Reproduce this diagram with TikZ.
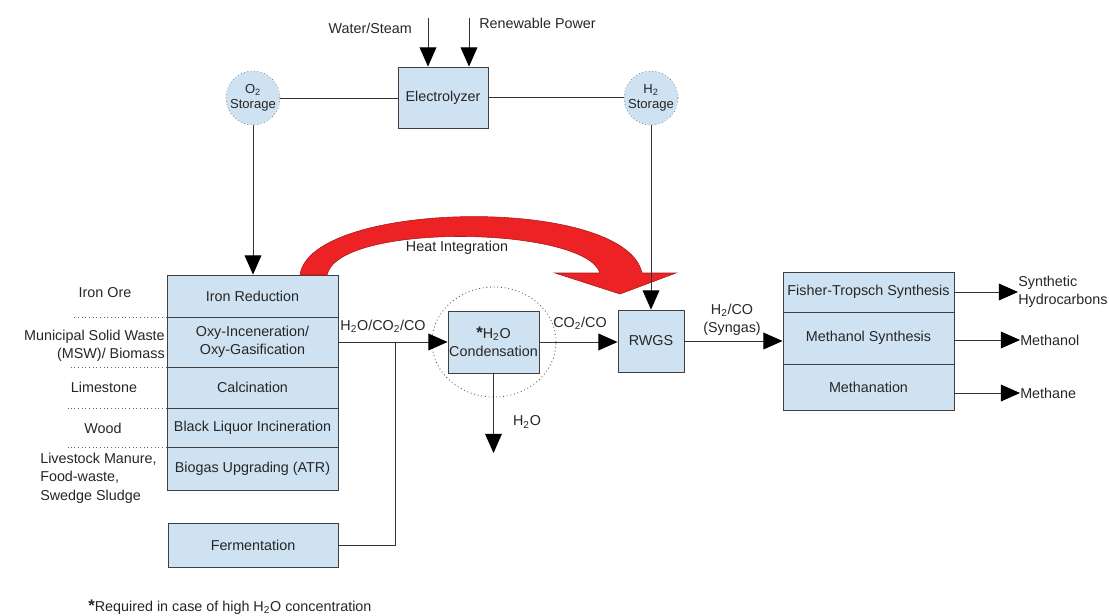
\documentclass[tikz,border=0pt]{standalone}
\usepackage{fontspec}
\setmainfont{Liberation Sans}
\usetikzlibrary{arrows.meta,shapes.geometric}
\definecolor{boxblue}{RGB}{206,226,242}
\definecolor{heatred}{RGB}{236,34,36}

\begin{document}
\begin{tikzpicture}[x=0.025cm, y=-0.025cm,
          font=\fontsize{10.2}{13}\selectfont, text=black!85,
          box/.style={draw=black!75, fill=boxblue, line width=0.6pt, inner sep=0pt, align=center},
          store/.style={draw=black!70, dotted, fill=boxblue, circle, minimum size=1.35cm, inner sep=0pt, align=center, font=\fontsize{9.3}{10.5}\selectfont},
          flow/.style={draw=black!80, line width=0.6pt},
          arr/.style={flow, -{Triangle[length=0.48cm, width=0.42cm, fill=black, color=black]}},
          sep/.style={draw=black!60, dotted, line width=0.6pt},
          lbl/.style={inner sep=0pt, align=center}
        ]
          \useasboundingbox (0,0) rectangle (1109,616);

          % electrolysis and storage
          \node[box, minimum width=2.25cm, minimum height=1.525cm] (elec) at (443,97.5) {Electrolyzer};
          \node[store] (o2) at (253,98) {O\textsubscript{2}\\Storage};
          \node[store] (h2) at (651,98) {H\textsubscript{2}\\Storage};
          \node[lbl, anchor=east] (water) at (412,28) {Water/Steam};
          \node[lbl, anchor=west] (power) at (479,23) {Renewable Power};
          \coordinate (wtop) at (428,18);
          \coordinate (ptop) at (469,18);

          % feedstock processes
          \node[box, minimum width=4.275cm, minimum height=1.05cm] (ironred) at (252.5,296) {Iron Reduction};
          \node[box, minimum width=4.275cm, minimum height=1.25cm] (oxy) at (252.5,342) {Oxy-Inceneration/\\Oxy-Gasification};
          \node[box, minimum width=4.275cm, minimum height=1.025cm] (calc) at (252.5,387.5) {Calcination};
          \node[box, minimum width=4.275cm, minimum height=0.975cm] (blackliq) at (252.5,427.5) {Black Liquor Incineration};
          \node[box, minimum width=4.275cm, minimum height=1.075cm] (biogas) at (252.5,468.5) {Biogas Upgrading (ATR)};
          \node[box, minimum width=4.25cm, minimum height=1.1cm] (ferm) at (253,545) {Fermentation};

          \node[lbl] (ore) at (105,293) {Iron Ore};
          \node[lbl, anchor=east, align=right] (msw) at (165,346) {Municipal Solid Waste\\(MSW)/ Biomass};
          \node[lbl] (lime) at (104,387) {Limestone};
          \node[lbl] (wood) at (103,428) {Wood};
          \node[lbl, anchor=north west, align=left] (manure) at (40,453) {Livestock Manure,\\Food-waste,\\Swedge Sludge};
          \draw[sep] (ironred.south west) -- ++(-95,0);
          \draw[sep] (oxy.south west) -- ++(-97,0);
          \draw[sep] (calc.south west) -- ++(-99,0);
          \draw[sep] (blackliq.south west) -- ++(-99,0);

          % gas cleaning and RWGS
          \node[ellipse, draw=black!70, dotted, line width=0.6pt, minimum width=3.1cm, minimum height=2.75cm] (ring) at (494,342) {};
          \node[box, minimum width=2.275cm, minimum height=1.55cm] (cond) at (493.5,342) {{\large\textbf{*}}H\textsubscript{2}O\\Condensation};
          \node[box, minimum width=1.65cm, minimum height=1.55cm] (rwgs) at (651,341) {RWGS};
          \coordinate (jn) at (395,342);
          \coordinate (wout) at (495,453);

          % synthesis
          \node[box, minimum width=4.275cm, minimum height=1.0cm] (ft) at (868.5,292) {Fisher-Tropsch Synthesis};
          \node[box, minimum width=4.275cm, minimum height=1.3cm] (meoh) at (868.5,338) {Methanol Synthesis};
          \node[box, minimum width=4.275cm, minimum height=1.15cm] (meth) at (868.5,387) {Methanation};
          \node[lbl, anchor=west, align=left] (hc) at (1018,292) {Synthetic\\Hydrocarbons};
          \node[lbl, anchor=west] (meout) at (1020,340) {Methanol};
          \node[lbl, anchor=west] (chout) at (1020,393) {Methane};

          % heat integration
          \filldraw[fill=heatred, draw=heatred!70!black, line width=0.4pt] (300,275) .. controls (310,200) and (625,195) .. (642,273) -- (676,273) -- (620,294) -- (555,273) -- (600,273) .. controls (585,226) and (338,222) .. (327,275) -- cycle;
          \node[lbl] (heatlbl) at (457,248) {Heat Integration};

          % connectors
          \draw[arr] (wtop) -- (wtop |- elec.north);
          \draw[arr] (ptop) -- (ptop |- elec.north);
          \draw[flow] (o2.east) -- (o2.east -| elec.west);
          \draw[flow] (elec.east) -- (elec.east -| h2.west);
          \draw[arr] (o2.south) -- (o2.south |- ironred.north);
          \draw[arr] (h2.south) -- (h2.south |- rwgs.north);
          \draw[arr] (oxy.east) -- (cond.west);
          \draw[flow] (ferm.east) -| (jn);
          \draw[arr] (cond.east) -- (cond.east -| rwgs.west);
          \draw[arr] (cond.south) -- (cond.south |- wout);
          \draw[arr] (rwgs.east) -- (rwgs.east -| meoh.west);
          \draw[arr] (ft.east) -- (ft.east -| hc.west);
          \draw[arr] (meoh.east |- meout.west) -- (meout.west);
          \draw[arr] (meth.east |- chout.west) -- (chout.west);

          \node[lbl] (mixlbl) at (383,326) {H\textsubscript{2}O/CO\textsubscript{2}/CO};
          \node[lbl] (colbl) at (580,323) {CO\textsubscript{2}/CO};
          \node[lbl] (h2olbl) at (527,422) {H\textsubscript{2}O};
          \node[lbl] (synlbl) at (732,320) {H\textsubscript{2}/CO\\(Syngas)};

          \node[lbl, anchor=west] (note) at (88,607) {{\large\textbf{*}}Required in case of high H\textsubscript{2}O concentration};
        \end{tikzpicture}
\end{document}
